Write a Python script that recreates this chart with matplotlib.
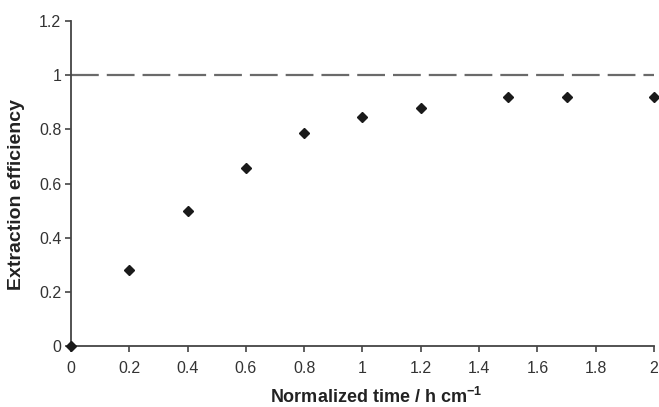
import matplotlib
matplotlib.use("Agg")
import matplotlib.pyplot as plt

plt.rcParams['font.family'] = ['Liberation Sans', 'DejaVu Sans']

# data
time = [0, 0.2, 0.4, 0.6, 0.8, 1.0, 1.2, 1.5, 1.7, 2.0]
efficiency = [0, 0.28, 0.50, 0.657, 0.787, 0.846, 0.881, 0.92, 0.92, 0.92]
max_eff = 1.0

xticks = [0, 0.2, 0.4, 0.6, 0.8, 1, 1.2, 1.4, 1.6, 1.8, 2]
xticklabels = ['0', '0.2', '0.4', '0.6', '0.8', '1', '1.2', '1.4', '1.6', '1.8', '2']
yticks = [0, 0.2, 0.4, 0.6, 0.8, 1, 1.2]
yticklabels = ['0', '0.2', '0.4', '0.6', '0.8', '1', '1.2']

fig = plt.figure(figsize=(6.59, 4.07), dpi=100)
ax = fig.add_axes([0.1077, 0.150, 0.8847, 0.798])

ax.axhline(max_eff, color='#6a6a6a', lw=1.6, dashes=(12.5, 3.6))
ax.plot(time, efficiency, 'D', color='#1a1a1a', markersize=5, clip_on=False, zorder=3)

ax.set_xlim(0, 2)
ax.set_ylim(0, 1.2)
ax.set_xticks(xticks)
ax.set_xticklabels(xticklabels)
ax.set_yticks(yticks)
ax.set_yticklabels(yticklabels)

for s in ['top', 'right']:
    ax.spines[s].set_visible(False)
for s in ['left', 'bottom']:
    ax.spines[s].set_color('#444444')
    ax.spines[s].set_linewidth(1.3)
ax.tick_params(direction='out', length=4, width=1.2, color='#444444',
               labelsize=11.5, labelcolor='#333333')
ax.tick_params(axis='x', pad=7)
ax.tick_params(axis='y', pad=3)

ax.set_xlabel('Normalized time / h cm$^{\\mathregular{-1}}$', fontsize=13, fontweight='bold',
              color='#222222')
ax.set_ylabel('Extraction efficiency', fontsize=14, fontweight='bold',
              color='#222222')
ax.xaxis.set_label_coords(0.523, -0.125)
ax.yaxis.set_label_coords(-0.078, 0.465)

fig.savefig('out.png', dpi=100)
